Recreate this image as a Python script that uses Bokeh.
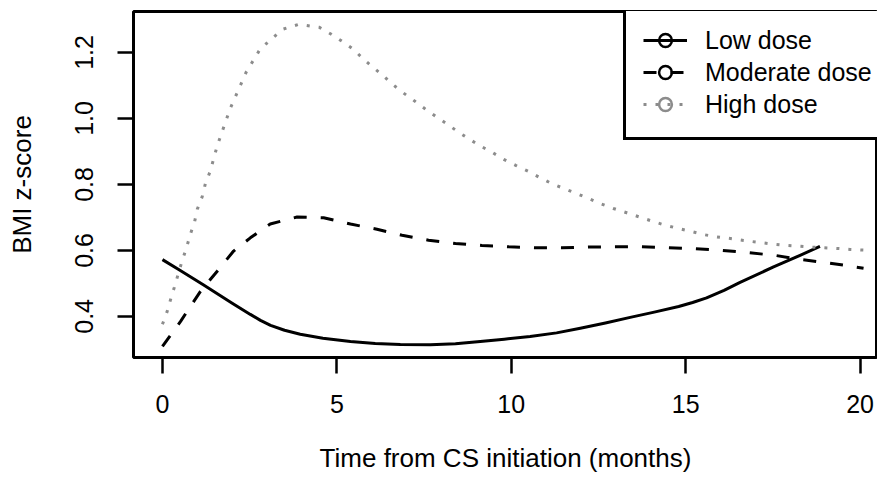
from bokeh.plotting import figure
from bokeh.models import Range1d, Legend, LegendItem, FixedTicker, PrintfTickFormatter, ColumnDataSource
from bokeh.embed import file_html
from bokeh.resources import INLINE

# ---- data ----
low_x = [0, 0.5, 1.17, 2.0, 2.52, 2.81, 3.1, 3.5, 3.95, 4.6, 5.39, 6.1, 6.82, 7.68, 8.4, 9.11, 9.8,
         10.54, 11.3, 11.98, 12.7, 13.41, 14.1, 14.8, 15.2, 15.6, 16.1, 16.56, 17.52, 18.28, 18.85]
low_y = [0.572, 0.54, 0.496, 0.44, 0.406, 0.388, 0.373, 0.358, 0.346, 0.334, 0.324, 0.318, 0.315,
         0.314, 0.317, 0.324, 0.331, 0.339, 0.35, 0.364, 0.38, 0.397, 0.413, 0.43, 0.442, 0.456,
         0.479, 0.503, 0.55, 0.585, 0.612]

mod_x = [0, 0.52, 1.09, 1.57, 2.04, 2.52, 3.09, 3.86, 4.62, 5.39, 6.15, 6.87, 7.63, 8.4, 9.16, 9.92,
         10.69, 11.45, 12.2, 12.98, 13.74, 14.51, 15.27, 16.04, 16.8, 17.56, 18.33, 19.09, 19.86, 20.1]
mod_y = [0.309, 0.385, 0.476, 0.537, 0.598, 0.638, 0.68, 0.701, 0.699, 0.68, 0.664, 0.646, 0.631,
         0.621, 0.615, 0.611, 0.608, 0.608, 0.61, 0.611, 0.611, 0.608, 0.605, 0.6, 0.593, 0.585,
         0.572, 0.562, 0.55, 0.546]

high_x = [0, 0.13, 0.23, 0.34, 0.56, 0.69, 0.8, 0.92, 1.0, 1.14, 1.23, 1.37, 1.57, 1.95, 2.4, 2.8,
          3.44, 3.9, 4.5, 4.84, 5.16, 5.47, 5.76, 6.05, 6.32, 6.61, 6.91, 7.25, 7.54, 7.85, 8.16,
          8.48, 8.8, 9.14, 9.47, 9.8, 10.14, 10.5, 10.83, 11.17, 11.52, 11.88, 12.22, 12.57, 12.93,
          13.31, 13.68, 14.03, 14.39, 14.77, 15.13, 15.51, 15.89, 16.28, 16.66, 17.04, 17.42, 17.8,
          18.19, 18.57, 18.95, 19.33, 19.71, 20.1]
high_y = [0.376, 0.413, 0.45, 0.488, 0.567, 0.608, 0.649, 0.686, 0.725, 0.763, 0.802, 0.84, 0.917,
          1.032, 1.14, 1.21, 1.27, 1.285, 1.276, 1.255, 1.233, 1.21, 1.18, 1.154, 1.13, 1.102, 1.077,
          1.051, 1.028, 1.005, 0.983, 0.959, 0.937, 0.915, 0.896, 0.875, 0.857, 0.839, 0.82, 0.802,
          0.787, 0.772, 0.757, 0.741, 0.727, 0.714, 0.701, 0.689, 0.677, 0.667, 0.658, 0.648, 0.641,
          0.636, 0.63, 0.625, 0.62, 0.616, 0.613, 0.61, 0.608, 0.606, 0.603, 0.601]

series_names = ["Low dose", "Moderate dose", "High dose"]
x_ticks = [0, 5, 10, 15, 20]
y_ticks = [0.4, 0.6, 0.8, 1.0, 1.2]
x_title = "Time from CS initiation (months)"
y_title = "BMI z-score"

FONT = "Liberation Sans"
GRAY = "#8c8c8c"

p = figure(width=877, height=476,
           x_range=Range1d(-0.83, 20.5), y_range=Range1d(0.2754, 1.324),
           output_backend="svg", toolbar_location=None,
           min_border_left=133, min_border_right=0, min_border_top=11, min_border_bottom=119)
p.background_fill_color = "white"
p.border_fill_color = "white"
p.outline_line_color = "black"
p.outline_line_width = 3
p.outline_line_alpha = 1
p.xgrid.visible = False
p.ygrid.visible = False

low_src = ColumnDataSource(data=dict(x=low_x, y=low_y))
mod_src = ColumnDataSource(data=dict(x=mod_x, y=mod_y))
high_src = ColumnDataSource(data=dict(x=high_x, y=high_y))

low_r = p.line("x", "y", source=low_src, line_color="black", line_width=3, line_join="round")
mod_r = p.line("x", "y", source=mod_src, line_color="black", line_width=3, line_dash="13 14")
high_r = p.line("x", "y", source=high_src, line_color=GRAY, line_width=3, line_dash="3 9")

# open-circle symbols used only by the legend: mapped on a range that keeps them out of view
p.extra_y_ranges = {"legend_only": Range1d(100, 101)}
low_m = p.scatter("x", "y", source=low_src, y_range_name="legend_only", marker="circle",
                  size=12, fill_color=None, line_color="black", line_width=2.5)
mod_m = p.scatter("x", "y", source=mod_src, y_range_name="legend_only", marker="circle",
                  size=12, fill_color=None, line_color="black", line_width=2.5)
high_m = p.scatter("x", "y", source=high_src, y_range_name="legend_only", marker="circle",
                   size=12, fill_color=None, line_color=GRAY, line_width=2.5)

p.xaxis.ticker = FixedTicker(ticks=x_ticks)
p.yaxis.ticker = FixedTicker(ticks=y_ticks)
p.yaxis.formatter = PrintfTickFormatter(format="%.1f")
p.xaxis.axis_label = x_title
p.yaxis.axis_label = y_title
for ax in (p.xaxis[0], p.yaxis[0]):
    ax.axis_line_color = None
    ax.major_tick_out = 16
    ax.major_tick_in = 0
    ax.minor_tick_line_color = None
    ax.major_tick_line_color = "black"
    ax.major_tick_line_width = 2.5
    ax.major_label_text_font = FONT
    ax.major_label_text_font_size = "25px"
    ax.major_label_text_color = "black"
    ax.axis_label_text_font = FONT
    ax.axis_label_text_font_size = "26px"
    ax.axis_label_text_font_style = "normal"
    ax.axis_label_text_color = "black"
p.yaxis.major_label_orientation = "vertical"
p.xaxis.major_label_standoff = 21
p.xaxis.axis_label_standoff = 27
p.yaxis.major_label_standoff = 24
p.yaxis.axis_label_standoff = 36

legend = Legend(items=[LegendItem(label=series_names[0], renderers=[low_r, low_m]),
                       LegendItem(label=series_names[1], renderers=[mod_r, mod_m]),
                       LegendItem(label=series_names[2], renderers=[high_r, high_m])],
                location=(490, 217), margin=0, padding=17, spacing=0,
                glyph_width=44, glyph_height=32, label_height=32, label_standoff=18,
                label_width=200,
                label_text_font=FONT, label_text_font_size="25px", label_text_color="black",
                border_line_color="black", border_line_width=3, border_line_alpha=1,
                background_fill_color="white", background_fill_alpha=1)
p.add_layout(legend)

open("out.html", "w").write(file_html(p, INLINE))
